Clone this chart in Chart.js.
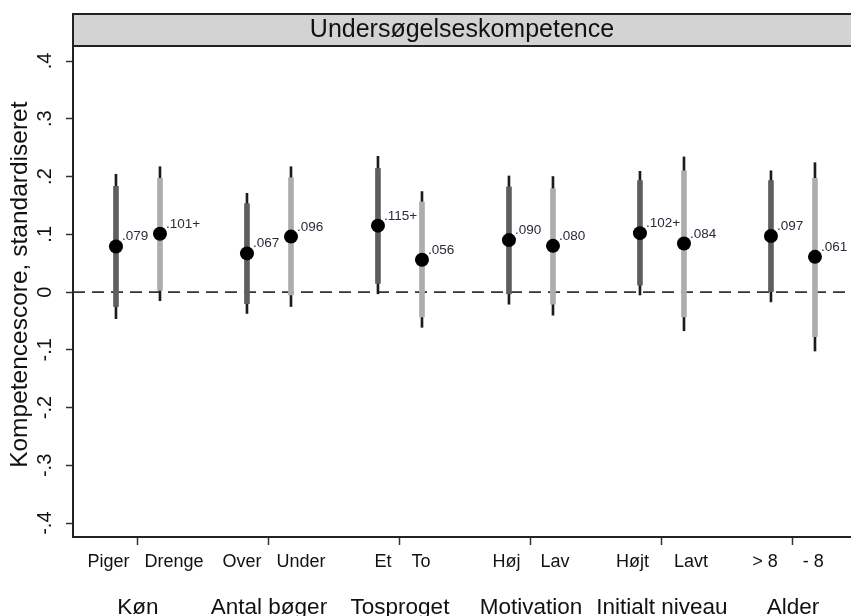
<!DOCTYPE html>
<html><head><meta charset="utf-8">
<script src="https://cdn.jsdelivr.net/npm/chart.js@4/dist/chart.umd.min.js"></script>
<style>html,body{margin:0;padding:0;background:#fff}#wrap{width:851px;height:616px}</style>
</head><body><div id="wrap"><canvas id="c" width="851" height="616"></canvas></div>
<script>
// ---- data ----
const panelTitle = 'Undersøgelseskompetence';
const yAxisTitle = '  Kompetencescore, standardiseret';
const groupLabels = ['Køn', 'Antal bøger', 'Tosproget', 'Motivation', 'Initialt niveau', 'Alder'];
const subTickLabels = ['   Piger   Drenge', '  Over   Under', ' Et    To', 'Høj    Lav', 'Højt     Lavt', '> 8     - 8  '];
const itemNames = ['Piger', 'Drenge', 'Over', 'Under', 'Et', 'To', 'Høj', 'Lav', 'Højt', 'Lavt', '> 8', '- 8'];
const estimates = [0.079, 0.101, 0.067, 0.096, 0.115, 0.056, 0.090, 0.080, 0.102, 0.084, 0.097, 0.061];
const ci95Low  = [-0.046, -0.015, -0.037, -0.025, -0.003, -0.061, -0.021, -0.040, -0.005, -0.067, -0.017, -0.102];
const ci95High = [0.204, 0.217, 0.171, 0.217, 0.235, 0.174, 0.201, 0.200, 0.209, 0.234, 0.210, 0.224];
const ci90Low  = [-0.025, 0.003, -0.020, -0.005, 0.015, -0.043, -0.003, -0.021, 0.012, -0.043, 0.001, -0.077];
const ci90High = [0.183, 0.197, 0.153, 0.198, 0.214, 0.156, 0.182, 0.179, 0.193, 0.210, 0.193, 0.197];
const pointLabels = ['.079', '.101+', '.067', '.096', '.115+', '.056', '.090', '.080', '.102+', '.084', '.097', '.061'];
const yTickValues = [-0.4, -0.3, -0.2, -0.1, 0, 0.1, 0.2, 0.3, 0.4];
const yTickLabels = ['-.4', '-.3', '-.2', '-.1', '0', '.1', '.2', '.3', '.4'];
const groupTickValues = [1, 2, 3, 4, 5, 6];

// ---- layout helpers ----
const X_MIN = 0.504, X_MAX = 6.443;
const Y_MIN = -0.424, Y_MAX = 0.426;
const SIDE_OFFSET = 0.168;
const xPos = estimates.map((_, i) => groupTickValues[Math.floor(i / 2)] + (i % 2 ? SIDE_OFFSET : -SIDE_OFFSET));
const FONT = "'Liberation Sans', Arial, Helvetica, sans-serif";
Chart.defaults.font.family = FONT;
Chart.defaults.color = '#111';

const titleBg = {
  id: 'titleBg',
  beforeDraw(chart) {
    const tb = chart.titleBlock, ca = chart.chartArea, ctx = chart.ctx;
    if (!tb) return;
    ctx.save();
    ctx.fillStyle = '#d3d3d3';
    ctx.fillRect(ca.left, tb.top, chart.width - ca.left, tb.bottom - tb.top);
    ctx.strokeStyle = '#222';
    ctx.lineWidth = 2;
    ctx.strokeRect(ca.left, tb.top, chart.width - ca.left + 2, tb.bottom - tb.top);
    ctx.restore();
  }
};
const pointText = {
  id: 'pointText',
  afterDatasetsDraw(chart) {
    const meta = chart.getDatasetMeta(0), ctx = chart.ctx;
    ctx.save();
    ctx.font = '13.5px ' + FONT;
    ctx.fillStyle = '#2a2a3a';
    ctx.textAlign = 'left';
    ctx.textBaseline = 'alphabetic';
    meta.data.forEach((el, i) => ctx.fillText(pointLabels[i], el.x + 6, el.y - 6));
    ctx.restore();
  }
};

const setGroupTicks = s => { s.ticks = groupTickValues.map(v => ({ value: v })); };
const noPad = s => { s.paddingLeft = 0; s.paddingRight = 0; s.paddingTop = 0; s.paddingBottom = 0; };

new Chart(document.getElementById('c'), {
  type: 'bar',
  data: {
    datasets: [
      { type: 'scatter', label: 'Estimat', data: xPos.map((x, i) => ({ x, y: estimates[i] })),
        pointRadius: 7, pointBackgroundColor: '#000', pointBorderWidth: 0, order: 0 },
      { type: 'bar', label: '90% CI', data: xPos.map((x, i) => ({ x, y: [ci90Low[i], ci90High[i]] })),
        barThickness: 5, grouped: false, borderWidth: 0,
        backgroundColor: c => (c.dataIndex % 2 ? '#adadad' : '#5e5e5e'), order: 1 },
      { type: 'bar', label: '95% CI', data: xPos.map((x, i) => ({ x, y: [ci95Low[i], ci95High[i]] })),
        barThickness: 2, grouped: false, borderWidth: 0, backgroundColor: '#1c1c1c', order: 2 },
      { type: 'line', label: 'nul', data: [{ x: X_MIN, y: 0 }, { x: X_MAX, y: 0 }],
        borderColor: '#333', borderWidth: 1.6, borderDash: [12, 7], pointRadius: 0, order: 3 }
    ]
  },
  options: {
    responsive: false, animation: false, devicePixelRatio: 1,
    layout: { autoPadding: false, padding: { top: 14, left: 0, right: 0, bottom: 0 } },
    plugins: {
      legend: { display: false }, tooltip: { enabled: false },
      title: { display: true, text: panelTitle, fullSize: false, color: '#111',
               font: { size: 25, weight: 'normal', lineHeight: 1.0 }, padding: { top: 3.5, bottom: 3.5 } }
    },
    scales: {
      x: {
        type: 'linear', position: 'bottom', min: X_MIN, max: X_MAX, offset: false,
        afterBuildTicks: setGroupTicks,
        afterFit: s => { s.height = 35; noPad(s); },
        ticks: { autoSkip: false, maxRotation: 0, minRotation: 0, padding: 6, color: '#111',
                 font: { size: 18 }, callback: (v, i) => subTickLabels[i] },
        grid: { display: true, offset: false, drawOnChartArea: false, drawTicks: true, tickLength: 8, tickColor: '#333', tickWidth: 1.5 },
        border: { display: true, color: '#222', width: 2 }
      },
      x2: {
        type: 'linear', position: 'bottom', min: X_MIN, max: X_MAX, offset: false,
        afterBuildTicks: setGroupTicks,
        afterFit: s => { s.height = 44; noPad(s); },
        ticks: { autoSkip: false, maxRotation: 0, minRotation: 0, padding: 22, color: '#111',
                 font: { size: 22.5 }, callback: (v, i) => groupLabels[i] },
        grid: { display: false, drawTicks: false },
        border: { display: false }
      },
      y: {
        type: 'linear', position: 'left', min: Y_MIN, max: Y_MAX,
        afterBuildTicks: s => { s.ticks = yTickValues.map(v => ({ value: v })); },
        afterFit: s => { s.width = 73; noPad(s); },
        ticks: { autoSkip: false, minRotation: 90, maxRotation: 90, crossAlign: 'center', padding: 9,
                 color: '#111', font: { size: 20 }, callback: (v, i) => yTickLabels[i] },
        grid: { display: true, drawOnChartArea: false, drawTicks: true, tickLength: 7, tickColor: '#333', tickWidth: 1.5 },
        border: { display: true, color: '#222', width: 2 },
        title: { display: true, text: yAxisTitle, color: '#111', font: { size: 24.5 }, padding: { top: 6, bottom: 0 } }
      }
    }
  },
  plugins: [titleBg, pointText]
});
</script>
</body></html>
